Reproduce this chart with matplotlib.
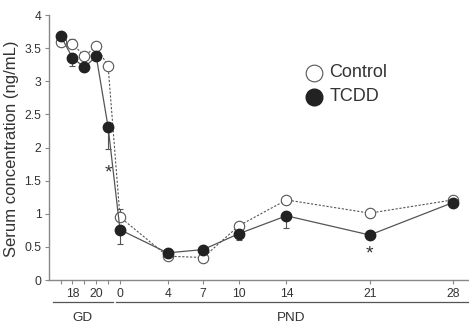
import numpy as np
import matplotlib
matplotlib.use("Agg")
import matplotlib.pyplot as plt

plt.rcParams['font.family'] = ['Liberation Sans', 'DejaVu Sans']

# x position: GD day d -> d - 22, PND day d -> d
days = [-5, -4, -3, -2, -1, 0, 4, 7, 10, 14, 21, 28]
control = [3.59, 3.57, 3.38, 3.53, 3.23, 0.95, 0.36, 0.34, 0.82, 1.21, 1.01, 1.21]
tcdd = [3.69, 3.36, 3.21, 3.38, 2.31, 0.76, 0.41, 0.46, 0.70, 0.97, 0.68, 1.17]
control_err_up = [0, 0.07, 0, 0, 0, 0.13, 0, 0, 0, 0.05, 0, 0]
tcdd_err_down = [0, 0.12, 0, 0, 0.33, 0.21, 0, 0, 0.1, 0.18, 0, 0]

tick_pos = [-5, -4, -3, -2, -1, 0, 4, 7, 10, 14, 21, 28]
tick_labels = ['', '18', '', '20', '', '0', '4', '7', '10', '14', '21', '28']
star_x = [-1, 21]
star_y = [1.62, 0.40]

dark = '#222222'
gray = '#555555'
axcol = '#888888'
txt = '#333333'

fig = plt.figure(figsize=(4.69, 3.28), dpi=100)
ax = fig.add_axes([0.1045, 0.1463, 0.8935, 0.8074])

ax.errorbar(days, control, yerr=[np.zeros(len(days)), control_err_up], fmt='none',
            ecolor=gray, elinewidth=0.8, capsize=2, capthick=0.8, zorder=2)
ax.errorbar(days, tcdd, yerr=[tcdd_err_down, np.zeros(len(days))], fmt='none',
            ecolor=gray, elinewidth=0.8, capsize=2, capthick=0.8, zorder=2)
ax.plot(days, control, linestyle=(0, (2, 1.5)), color=gray, linewidth=0.8,
        marker='o', markersize=7.5, markerfacecolor='white', markeredgecolor=gray,
        markeredgewidth=0.8, zorder=3)
ax.plot(days, tcdd, linestyle='-', color=gray, linewidth=0.9,
        marker='o', markersize=7.5, markerfacecolor=dark, markeredgecolor=dark, zorder=4)

for sx, sy in zip(star_x, star_y):
    ax.text(sx, sy, '*', ha='center', va='center', fontsize=14, color=txt)

# legend
ax.plot([16.3], [3.13], 'o', markersize=12, markerfacecolor='white',
        markeredgecolor=gray, markeredgewidth=0.8, clip_on=False)
ax.plot([16.3], [2.77], 'o', markersize=12, markerfacecolor=dark,
        markeredgecolor=dark, clip_on=False)
ax.text(17.6, 3.13, 'Control', fontsize=13, va='center', ha='left', color=txt)
ax.text(17.6, 2.77, 'TCDD', fontsize=13, va='center', ha='left', color=txt)

ax.set_xlim(-5.97, 29.27)
ax.set_ylim(0, 4)
ax.set_yticks(np.arange(0, 4.01, 0.5))
ax.set_yticklabels(['0', '0.5', '1', '1.5', '2', '2.5', '3', '3.5', '4'])
ax.set_xticks(tick_pos)
ax.set_xticklabels(tick_labels)
ax.tick_params(axis='both', direction='out', length=3, width=0.8, colors=axcol,
               labelcolor=txt, labelsize=8.7, pad=2.5)
ax.set_ylabel('Serum concentration (ng/mL)', fontsize=12, color=txt)
ax.yaxis.set_label_coords(-0.072, 0.494)

for s in ['top', 'right']:
    ax.spines[s].set_visible(False)
for s in ['left', 'bottom']:
    ax.spines[s].set_color(axcol)
    ax.spines[s].set_linewidth(1.0)

# group lines under the axis
tr = ax.get_xaxis_transform()
ax.plot([-5.6, -0.6], [-0.083, -0.083], color=gray, linewidth=0.9, transform=tr, clip_on=False)
ax.plot([-0.35, 29.27], [-0.083, -0.083], color=gray, linewidth=0.9, transform=tr, clip_on=False)
ax.text(-3.15, -0.12, 'GD', transform=tr, ha='center', va='top', fontsize=9.7, color=txt)
ax.text(14.4, -0.12, 'PND', transform=tr, ha='center', va='top', fontsize=9.7, color=txt)

fig.savefig('out.png', dpi=100)
